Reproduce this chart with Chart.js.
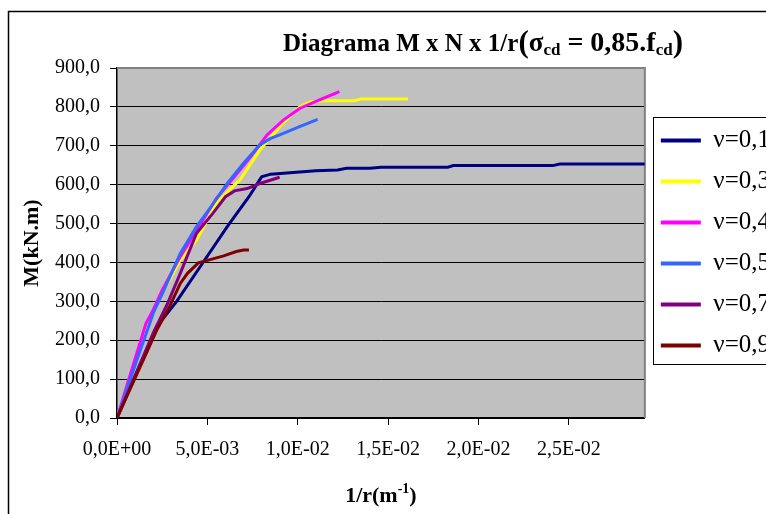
<!DOCTYPE html>
<html>
<head>
<meta charset="utf-8">
<script src="https://cdn.jsdelivr.net/npm/chart.js@4.4.1/dist/chart.umd.min.js"></script>
<style>
html, body { margin: 0; padding: 0; background: #fff; overflow: hidden; }
#wrap { width: 766px; height: 514px; overflow: hidden; }
canvas { display: block; }
</style>
</head>
<body>
<div id="wrap"><canvas id="chart" width="900" height="514"></canvas></div>
<script>
// series: curvature 1/r (m^-1) against moment M (kN.m)
const seriesNames = ['ν=0,1', 'ν=0,3', 'ν=0,4', 'ν=0,5', 'ν=0,7', 'ν=0,9'];
const seriesColors = ['#000080', '#FFFF00', '#FF00FF', '#3366FF', '#800080', '#800000'];

const curv01 = [0, 0.0022, 0.0033, 0.0046, 0.0061, 0.0073, 0.0080, 0.0085, 0.0110, 0.0122, 0.0127, 0.0140, 0.0146, 0.0183, 0.0186, 0.0241, 0.0245, 0.0292];
const mom01  = [0, 235, 300, 389, 492, 569, 620, 627, 636, 638, 642, 642, 645, 645, 649, 649, 653, 653];

const curv03 = [0, 0.0015, 0.0025, 0.0035, 0.0044, 0.0048, 0.0055, 0.0064, 0.0068, 0.0079, 0.0090, 0.0101, 0.0107, 0.0116, 0.0131, 0.0135, 0.0161];
const mom03  = [0, 218, 321, 406, 458, 492, 552, 595, 612, 689, 749, 800, 813, 816, 816, 820, 820];

const curv04 = [0, 0.0016, 0.0020, 0.0025, 0.0035, 0.0044, 0.0055, 0.0064, 0.0074, 0.0083, 0.0092, 0.0101, 0.0111, 0.0123];
const mom04  = [0, 243, 278, 329, 415, 483, 565, 615, 672, 728, 766, 796, 816, 839];

const curv05 = [0, 0.0011, 0.0020, 0.0026, 0.0035, 0.0044, 0.0052, 0.0061, 0.0070, 0.0079, 0.0085, 0.0090, 0.0101, 0.0111];
const mom05  = [0, 149, 269, 329, 423, 492, 543, 603, 655, 702, 719, 728, 749, 768];

const curv07 = [0, 0.0020, 0.0028, 0.0035, 0.0044, 0.0053, 0.0060, 0.0065, 0.0072, 0.0079, 0.0090];
const mom07  = [0, 218, 295, 372, 475, 526, 569, 584, 590, 603, 619];

const curv09 = [0, 0.0022, 0.0029, 0.0035, 0.0039, 0.0045, 0.0052, 0.0059, 0.0066, 0.0070, 0.0073];
const mom09  = [0, 226, 286, 346, 372, 399, 408, 417, 428, 432, 432];

const curvs = [curv01, curv03, curv04, curv05, curv07, curv09];
const moms = [mom01, mom03, mom04, mom05, mom07, mom09];

const serif = '"Liberation Serif", "Times New Roman", serif';

function sciLabel(v) {
  if (Math.abs(v) < 1e-12) return '0,0E+00';
  const e = Math.floor(Math.log10(Math.abs(v)) + 1e-9);
  const m = v / Math.pow(10, e);
  return m.toFixed(1).replace('.', ',') + 'E' + (e < 0 ? '-' : '+') + String(Math.abs(e)).padStart(2, '0');
}

// draws text made of runs (size, vertical shift) centred on cx
function drawRuns(ctx, runs, cx, baseline) {
  let total = 0;
  runs.forEach(r => {
    ctx.font = 'bold ' + r[1] + 'px ' + serif;
    total += ctx.measureText(r[0]).width;
  });
  let x = cx - total / 2;
  runs.forEach(r => {
    ctx.font = 'bold ' + r[1] + 'px ' + serif;
    ctx.fillText(r[0], x, baseline + r[2]);
    x += ctx.measureText(r[0]).width;
  });
}

const frame = {
  id: 'frame',
  beforeDraw(chart) {
    const { ctx, chartArea: a } = chart;
    ctx.save();
    ctx.fillStyle = '#fff';
    ctx.fillRect(0, 0, chart.width, chart.height);
    ctx.fillStyle = '#C0C0C0';
    ctx.fillRect(a.left, a.top, a.right - a.left, a.bottom - a.top);
    ctx.restore();
  },
  beforeDatasetsDraw(chart) {
    const { ctx, chartArea: a } = chart;
    ctx.save();
    ctx.strokeStyle = '#808080';
    ctx.lineWidth = 2;
    ctx.beginPath();
    ctx.moveTo(a.left, a.top);
    ctx.lineTo(a.right, a.top);
    ctx.lineTo(a.right, a.bottom);
    ctx.stroke();
    ctx.restore();
  },
  afterDraw(chart) {
    const { ctx, chartArea: a } = chart;
    ctx.save();
    // outer chart border
    ctx.strokeStyle = '#000';
    ctx.lineWidth = 1.5;
    ctx.strokeRect(8.5, 11.5, 2000, 2000);
    // legend box
    const lg = chart.legend;
    const hb = lg.legendHitBoxes;
    const top = hb[0].top - 11.5;
    const bottom = hb[hb.length - 1].top + hb[hb.length - 1].height + 5.5;
    ctx.lineWidth = 1;
    ctx.strokeRect(Math.round(lg.left + 8) + 0.5, Math.round(top) + 0.5, 400, Math.round(bottom - top));
    // titles
    ctx.fillStyle = '#000';
    ctx.textBaseline = 'alphabetic';
    drawRuns(ctx, [
      ['Diagrama M x N x 1/r', 25, 0],
      ['(', 31, 1],
      ['σ', 27, 0],
      ['cd', 17, 4],
      [' = 0,85.f', 28, 0],
      ['cd', 17, 4],
      [')', 31, 1]
    ], 483, 51);
    drawRuns(ctx, [
      ['1/r(m', 22, 0],
      ['-1', 14, -9],
      [')', 22, 0]
    ], (a.left + a.right) / 2, 502);
    ctx.restore();
  }
};

const datasets = seriesNames.map((name, i) => ({
  label: name,
  data: curvs[i].map((c, j) => ({ x: c, y: moms[i][j] })),
  borderColor: seriesColors[i],
  backgroundColor: seriesColors[i],
  borderWidth: 3,
  pointRadius: 0,
  tension: 0,
  order: seriesNames.length - i
}));

new Chart(document.getElementById('chart'), {
  type: 'line',
  data: { datasets },
  plugins: [frame],
  options: {
    responsive: false,
    animation: false,
    events: [],
    layout: { padding: { left: 0, top: 68, right: 120, bottom: 0 } },
    plugins: {
      title: { display: false },
      tooltip: { enabled: false },
      legend: {
        position: 'right',
        fullSize: false,
        align: 'center',
        labels: {
          color: '#000',
          font: { family: serif, size: 25 },
          boxWidth: 40,
          boxHeight: 4,
          padding: 16,
          sort: (a, b) => a.datasetIndex - b.datasetIndex,
          generateLabels: chart => Chart.defaults.plugins.legend.labels.generateLabels(chart)
            .map(l => Object.assign(l, { lineWidth: 0 }))
        }
      }
    },
    scales: {
      x: {
        type: 'linear',
        min: 0,
        max: 0.0292,
        afterFit: s => { s.height = 96; },
        ticks: {
          stepSize: 0.005,
          includeBounds: false,
          maxRotation: 0,
          autoSkip: false,
          padding: 13,
          color: '#000',
          font: { family: serif, size: 20 },
          callback: v => sciLabel(v)
        },
        grid: { drawOnChartArea: false, drawTicks: true, tickLength: 7, color: '#000' },
        border: { display: true, color: '#000', width: 1.5 }
      },
      y: {
        min: 0,
        max: 900,
        afterFit: s => { s.width = 117; },
        ticks: {
          stepSize: 100,
          padding: 10,
          color: '#000',
          font: { family: serif, size: 20 },
          callback: v => v.toFixed(1).replace('.', ',')
        },
        grid: { color: '#000', lineWidth: 1, tickLength: 7 },
        border: { display: true, color: '#000', width: 1.5 },
        title: {
          display: true,
          text: 'M(kN.m)',
          color: '#000',
          font: { family: serif, size: 22, weight: 'bold' },
          padding: { top: 19, bottom: 0 }
        }
      }
    }
  }
});
</script>
</body>
</html>
